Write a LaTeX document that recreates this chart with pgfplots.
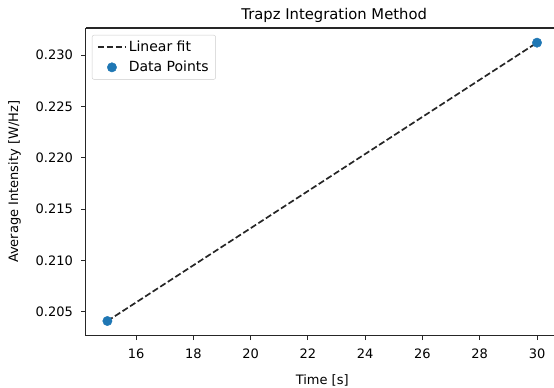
\documentclass[border=0pt]{standalone}
\usepackage{pgfplots}
\pgfplotsset{compat=1.18}
\usepackage{fontspec}
\setmainfont{DejaVu Sans}
\definecolor{mplblue}{HTML}{1F77B4}
\pgfplotsset{
  longlinelegend/.style={legend image code/.code={\draw[##1] (0pt,0pt) -- (28pt,0pt);}},
  midmarklegend/.style={legend image code/.code={\draw[mark repeat=2, mark phase=2, ##1] plot coordinates {(0pt,0pt) (14pt,0pt) (28pt,0pt)};}},
}
\begin{document}
\begin{tikzpicture}
\useasboundingbox (-86pt,-52pt) rectangle (468.5pt,336pt);
\begin{axis}[
  at={(0pt,0pt)}, anchor=south west,
  scale only axis, clip=false,
  width=473pt, height=308pt,
  xmin=14.25, xmax=30.75,
  ymin=0.20267, ymax=0.23263,
  axis line style={line width=0.9pt, black!85},
  xtick={16,18,...,30},
  ytick={0.205,0.210,0.215,0.220,0.225,0.230},
  scaled y ticks=false,
  yticklabel style={xshift=-5pt, /pgf/number format/.cd, fixed, fixed zerofill, precision=3},
  /pgf/number format/assume math mode=true,
  tick align=outside,
  tick pos=left,
  major tick length=4.5pt,
  tick style={line width=0.9pt, black!85},
  ticklabel style={font=\fontsize{13}{15}\selectfont},
  xticklabel style={yshift=-5pt},
  xlabel={Time [s]},
  ylabel={Average Intensity [W/Hz]},
  label style={font=\fontsize{13}{15}\selectfont},
  xlabel style={yshift=-9pt},
  ylabel style={yshift=8pt},
  title={Trapz Integration Method},
  title style={font=\fontsize{14.8}{17}\selectfont, yshift=-4pt, xshift=12pt},
  legend style={at={(rel axis cs:0,1)}, anchor=north west, xshift=6pt, yshift=-7pt,
    draw=black!20, rounded corners=2pt, fill=white, fill opacity=0.8, text opacity=1,
    font=\fontsize{14}{16}\selectfont, row sep=4pt, inner xsep=5pt, inner ysep=4pt},
  legend cell align=left,
  legend image post style={fill opacity=1, draw opacity=1},
]
\addplot[black!85, line width=1.7pt, dash pattern=on 6.3pt off 2.7pt, longlinelegend] coordinates {(15,0.2041) (30,0.2312)};
\addlegendentry{Linear fit}
\addplot[only marks, mark=*, mark size=4.7pt, color=mplblue, mark options={draw=mplblue, fill=mplblue}, midmarklegend] coordinates {(15,0.2041) (30,0.2312)};
\addlegendentry{Data Points}
\draw[line width=1pt, black!85] (rel axis cs:0,1) -- (rel axis cs:1,1);
\end{axis}
\end{tikzpicture}
\end{document}
